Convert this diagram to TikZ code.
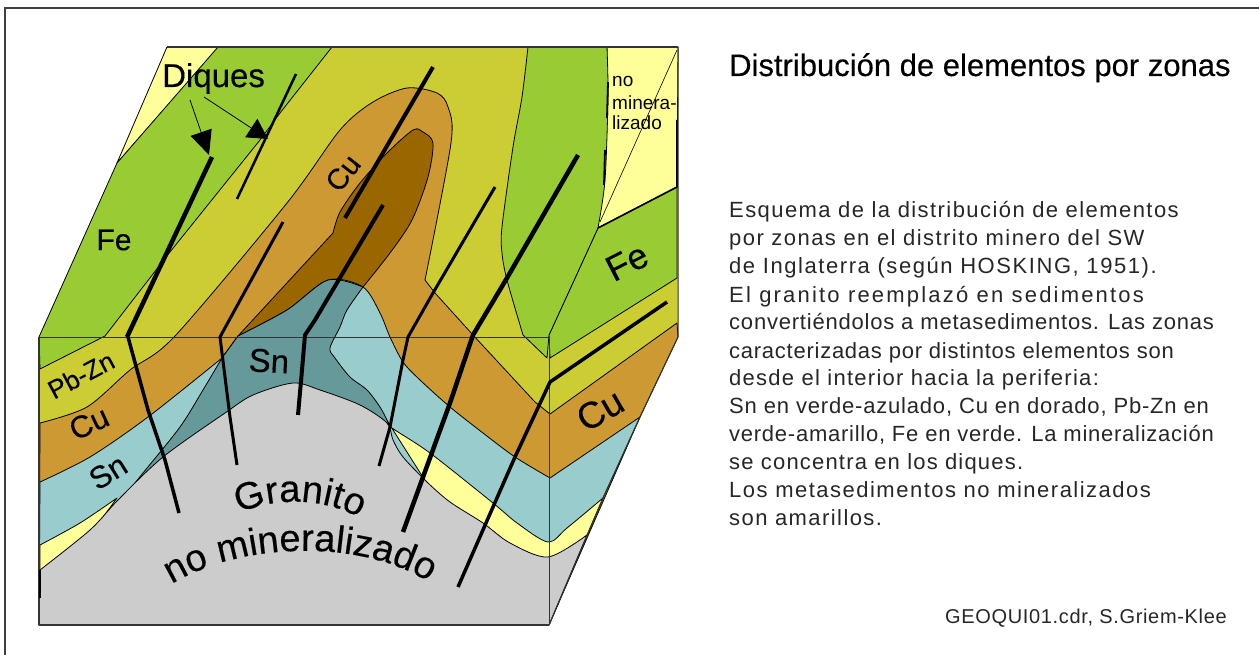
\documentclass[tikz,border=0pt]{standalone}
\usepackage{fontspec}
\setmainfont{Liberation Sans}
\newfontfamily\heavyfont[FakeBold=0.3]{Liberation Sans}
\usetikzlibrary{arrows.meta,decorations.text}
\definecolor{cpb}{HTML}{CCCC33}
\definecolor{cfe}{HTML}{99CC33}
\definecolor{ccu}{HTML}{CC9933}
\definecolor{cdk}{HTML}{996600}
\definecolor{cte}{HTML}{669999}
\definecolor{csn}{HTML}{99CCCC}
\definecolor{cye}{HTML}{FFFF99}
\definecolor{cgr}{HTML}{CCCCCC}
\newcommand{\fs}[1]{\fontsize{#1}{#1}\selectfont}
\newcommand{\fh}[1]{\heavyfont\fontsize{#1}{#1}\selectfont}
\newcommand{\ls}[1]{\addfontfeature{LetterSpace=#1}}
\tikzset{
  zone/.style={draw=black,line width=0.8pt,line join=round},
  edgeline/.style={draw=black!80,line width=1.4pt},
  dike/.style={draw=black,line width=#1,line join=round},
  dike/.default=3.5pt,
  lab/.style={inner sep=0pt,text=black},
  body/.style={inner sep=0pt,anchor=base west,text=black!85,font=\fontsize{22}{26}\selectfont},
  pointer/.style={draw=black,line width=0.8pt}
}
\begin{document}
\begin{tikzpicture}[x=1pt,y=-1pt]
\useasboundingbox (0,0) rectangle (1259,655);
% frame
\draw[draw=black!75,line width=1.2pt] (5,655) -- (5,8) -- (1259,8);
% base (Pb-Zn)
\fill[cpb] (167,47) -- (678,47) -- (678,337) -- (640,417) -- (603,498) -- (587,535) -- (549,625) -- (39,625) -- (39,337) -- (117,163) -- cycle;
% top-left yellow
\path[zone,fill=cye] (167,47) -- (219,47) -- (117,163) -- cycle;
% Fe left
\path[zone,fill=cfe] (218,47) -- (332,47) -- (280,113) -- (260,140) -- (170,252) -- (105,336) -- (40,369) -- (39,337) -- (117,163) -- cycle;
% top-right yellow
\path[zone,fill=cye] (607,47) -- (678,47) -- (677,187) -- (598,228) -- cycle;
\draw[line width=0.6pt,black] (677,50) -- (600,222);
% Fe right
\path[zone,fill=cfe] (598,228) -- (677,187) -- (677,278) -- (550,358) -- (549,335) -- cycle;
% Fe central
\path[zone,fill=cfe] (528,47) -- plot[smooth] coordinates {(528,47) (522,97) (513,147) (502,227) (502,253) (507,280) (523,335)} -- (547,358) -- (549,335) -- (598,228) -- plot[smooth] coordinates {(598,228) (605,180) (608,97) (607,47)} -- cycle;
\draw[line width=1.8pt,black] (608,82) -- (607,118) (605,150) -- (604,185);
\draw[line width=1.6pt,black] (677,120) -- (677,187) -- (598,228);
% Cu
\path[zone,fill=ccu] plot[smooth,tension=0.5] coordinates {(40,423) (87,407) (130,370) (175,336) (287,203) (340,130) (373,102) (407,88) (437,93) (448,107) (451,143) (425,280)} -- (435,293) -- (473,335) -- (535,402) -- (550,414) -- (677,323) -- (678,337) -- (640,417) -- (549,625) -- (39,625) -- cycle;
% dark brown
\path[zone,fill=cdk] (222,358) -- (238,336) -- (333,233) -- plot[smooth] coordinates {(333,233) (340,212) (360,183) (387,153) (413,130) (423,132) (433,143) (428,177) (412,220) (390,253) (363,287)} -- (300,340) -- cycle;
% Sn blue
\path[zone,fill=csn] plot[smooth] coordinates {(40,482) (90,457) (148,417) (222,358)} -- (238,336) -- plot[smooth] coordinates {(238,336) (287,310) (328,280) (363,287) (380,313) (390,337) (403,362) (420,380) (450,407) (483,433) (515,457) (550,478)} -- (640,417) -- (603,498) -- (549,625) -- (39,625) -- cycle;
% teal
\path[zone,fill=cte] plot[smooth] coordinates {(135,483) (143,473) (180,427) (203,390) (222,358)} -- (238,336) -- plot[smooth] coordinates {(238,336) (287,310) (328,280) (363,287)} -- plot[smooth] coordinates {(363,287) (347,310) (340,327) (330,348) (335,358) (350,377) (367,390) (380,407) (388,422)} -- (300,450) -- (160,470) -- cycle;
% lower yellow
\path[zone,fill=cye] plot[smooth] coordinates {(40,545) (80,523) (117,498)} -- (90,535) -- (40,575) -- cycle;
\path[zone,fill=cye] plot[smooth] coordinates {(388,422) (392,428) (430,453) (493,503) (517,523) (548,542) (567,528) (603,498)} -- (587,535) -- (549,570) -- (450,520) -- cycle;
% granite
\path[zone,fill=cgr] plot[smooth] coordinates {(40,570) (90,530) (118,500) (163,457) (225,413) (253,395) (293,383) (320,390) (360,405) (387,423) (393,440) (403,457) (427,482) (450,502) (483,523) (510,543) (548,557) (587,535)} -- (549,625) -- (39,625) -- cycle;
% block lines
\draw[draw=black!80,line width=1pt] (39,337) -- (549,337);
\draw[draw=black!80,line width=1pt] (549,337) -- (549,625);
\draw[edgeline] (167,47) -- (678,47);
\draw[edgeline] (39,625) -- (549,625);
\draw[edgeline] (39,337) -- (39,625);
\draw[edgeline,line width=1pt] (678,47) -- (678,337) -- (640,417) -- (603,498) -- (549,625);
\draw[line width=2pt,black] (40,570) -- (40,598);
% dikes
\draw[dike=4.5pt] (212,157) -- (127,337);
\draw[dike=3.5pt] (128,337) -- (148,410) -- (165,460) -- (179,513);
\draw[dike=2.5pt] (296,74) -- (237,199);
\draw[dike=3pt] (283,222) -- (220,337) -- (222,353) -- (230,417) -- (237,465);
\draw[dike=4pt] (433,67) -- (345,218);
\draw[dike=4pt] (383,205) -- (315,320) -- (305,335) -- (302,370) -- (298,415);
\draw[dike=3pt] (495,187) -- (433,293) -- (408,337) -- (403,360) -- (390,427) -- (379,466);
\draw[dike=4.5pt] (578,155) -- (507,278) -- (473,335) -- (450,403) -- (403,532);
\draw[dike=3.5pt] (667,302) -- (550,382) -- (515,457) -- (493,507) -- (458,587);
% pointers
\draw[pointer,-{Triangle[length=24pt,width=22pt]}] (190,100) -- (209,155);
\draw[pointer,-{Triangle[length=20pt,width=22pt]}] (204,97) -- (268,139);
% labels
\node[lab,font=\fh{33},anchor=base west] (diques) at (162,87) {Diques};
\node[lab,font=\fh{30}] (fe1) at (114,240) {Fe};
\node[lab,font=\fh{36},rotate=27] (fe2) at (627,262) {Fe};
\node[lab,font=\fh{29},rotate=52] (cu1) at (343,173) {Cu};
\node[lab,font=\fh{26},rotate=28] (pbzn) at (81,375) {Pb-Zn};
\node[lab,font=\fh{31},rotate=25] (cu2) at (89,423) {Cu};
\node[lab,font=\fh{31},rotate=32] (sn1) at (108,472) {Sn};
\node[lab,font=\fh{33},rotate=-3] (sn2) at (269,361) {Sn};
\node[lab,font=\fh{37},rotate=30] (cu3) at (600,410) {Cu};
\node[lab,font=\fs{19},anchor=base west] (no1) at (612,87) {no};
\node[lab,font=\fs{19},anchor=base west] (no2) at (612,110) {minera-};
\node[lab,font=\fs{19},anchor=base west] (no3) at (612,130) {lizado};
\path[decorate,decoration={text along path,text align=center,text={|\fh{38}|Granito}}] (232,517) .. controls (270,495) and (330,497) .. (366,522);
\path[decorate,decoration={text along path,text align=center,text={|\fh{38}|no mineralizado}}] (160,592) .. controls (230,540) and (370,535) .. (440,590);
% right text
\node[inner sep=0pt,anchor=base west,text=black,font=\fh{31}] (title) at (729,76) {Distribución de elementos por zonas};
\node[body] (t1) at (729,218) {\ls{6.5}Esquema de la distribución de elementos};
\node[body] (t2) at (729,246) {\ls{6.6}por zonas en el distrito minero del SW};
\node[body] (t3) at (729,274) {\ls{7.1}de Inglaterra (según HOSKING, 1951).};
\node[body] (t4) at (729,302) {\ls{10}El granito reemplazó en sedimentos};
\node[body] (t5) at (729,330) {\ls{3.6}convertiéndolos a metasedimentos. Las zonas};
\node[body] (t6) at (729,358) {\ls{3.4}caracterizadas por distintos elementos son};
\node[body] (t7) at (729,385) {\ls{5.8}desde el interior hacia la periferia:};
\node[body] (t8) at (729,413) {\ls{3.7}Sn en verde-azulado, Cu en dorado, Pb-Zn en};
\node[body] (t9) at (729,441) {\ls{3.4}verde-amarillo, Fe en verde. La mineralización};
\node[body] (t10) at (729,469) {\ls{5.4}se concentra en los diques.};
\node[body] (t11) at (729,497) {\ls{6.8}Los metasedimentos no mineralizados};
\node[body] (t12) at (729,525) {\ls{6.5}son amarillos.};
\node[inner sep=0pt,anchor=base west,text=black!85,font=\fs{20}] (credit) at (945,623) {\ls{3.3}GEOQUI01.cdr, S.Griem-Klee};
\end{tikzpicture}
\end{document}
